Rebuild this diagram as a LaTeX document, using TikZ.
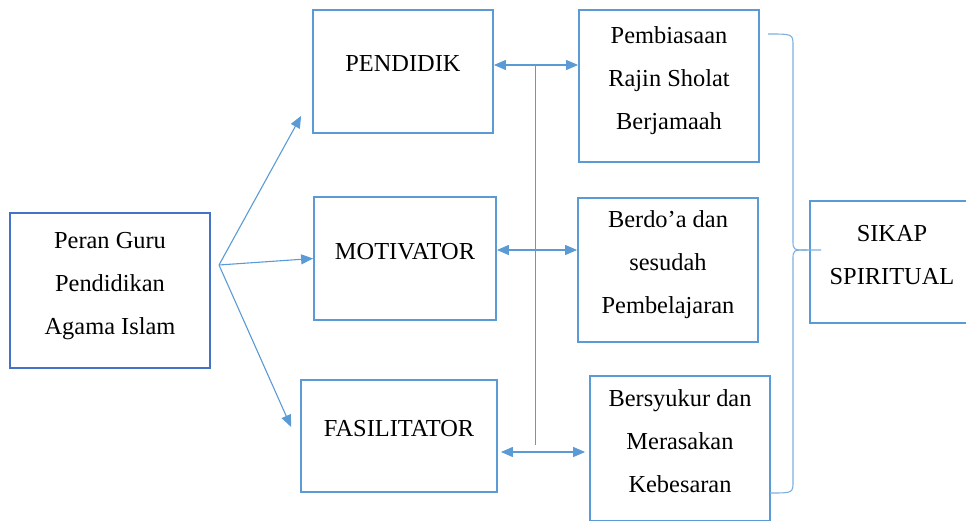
\documentclass[tikz,border=0pt]{standalone}
\usepackage{fontspec}
\setmainfont{Liberation Serif}
\usepackage{tikz}
\usetikzlibrary{arrows.meta,calc}

\definecolor{birumuda}{RGB}{91,155,213}
\definecolor{birutua}{RGB}{68,114,196}
\newcommand{\isi}{\fontsize{24.4}{43}\selectfont}

\begin{document}
\begin{tikzpicture}[>={Triangle[length=12pt,width=10pt]}, x=1pt, y=-1pt]
	\tikzstyle{kotak} = [draw=birumuda, line width=1.8pt, minimum width=180pt, minimum height=123pt, inner sep=0pt, align=center, font=\isi, execute at end node={\rule[-15pt]{0pt}{15pt}}]
	\tikzstyle{panah} = [birumuda, line width=1.1pt]
	\tikzstyle{kurung} = [birumuda!80, line width=1.1pt]
	\useasboundingbox (0,0) rectangle (966,521);
	\begin{scope}
	  \path[->]
	  node[kotak, draw=birutua, minimum width=200pt, minimum height=155pt] (guru) at (110,290.5) {Peran Guru\\Pendidikan\\Agama Islam}
	  node[kotak] (pendidik) at (403,71.5) {PENDIDIK}
	  node[kotak, minimum width=182pt] (motivator) at (405,258.5) {MOTIVATOR}
	  node[kotak, minimum width=196pt, minimum height=112pt] (fasilitator) at (399,436) {FASILITATOR}
	  node[kotak, minimum height=152pt] (pembiasaan) at (669,86) {Pembiasaan\\Rajin Sholat\\Berjamaah}
	  node[kotak, minimum height=144pt] (berdoa) at (668,270) {Berdo’a dan\\sesudah\\Pembelajaran}
	  node[kotak, minimum height=145pt] (bersyukur) at (680,448.5) {Bersyukur dan\\Merasakan\\Kebesaran}
	  node[kotak, minimum width=164pt, minimum height=122pt] (sikap) at (892,262) {SIKAP\\SPIRITUAL}
	  coordinate (fan) at (219,265)
	  coordinate (jalurA) at (535,65)
	  coordinate (jalurB) at (535,445)
	  (fan) edge[panah] ($(pendidik.south west)+(-11,-18)$)
	  (fan) edge[panah] (motivator.west)
	  (fan) edge[panah] ($(fasilitator.west)+(-9,-9)$)
	  (pendidik.east |- 0,65) edge[panah, <->] (pembiasaan.west |- 0,65)
	  (motivator.east |- 0,250) edge[panah, <->] (berdoa.west |- 0,250)
	  ($(fasilitator.east |- 0,452)+(3,0)$) edge[panah, <->] ($(bersyukur.west |- 0,452)+(-4,0)$)
	  (jalurA) edge[panah, -, line width=1pt] (jalurB)
	  ;
	\end{scope}
	% kurung kurawal ke sikap spiritual
	\coordinate (kurungatas) at (768,34);
	\coordinate (kurungbawah) at (770,493);
	\coordinate (ujung) at (821,250);
	\draw[kurung] (kurungatas) .. controls (793,34) .. (793,46) -- (793,240)
	  .. controls (793,250) .. (807,250) -- (ujung);
	\draw[kurung] (807,250) .. controls (793,250) .. (793,260) -- (793,481)
	  .. controls (793,493) .. (kurungbawah);
\end{tikzpicture}
\end{document}
